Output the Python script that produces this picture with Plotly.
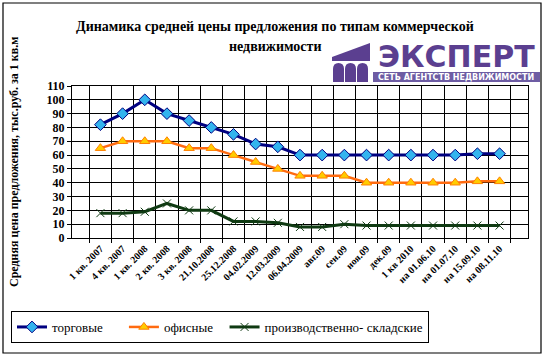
import plotly.graph_objects as go

categories = ["1 кв. 2007", "4 кв. 2007", "1 кв. 2008", "2 кв. 2008", "3 кв. 2008",
              "21.10.2008", "25.12.2008", "04.02.2009", "12.03.2009", "06.04.2009",
              "авг.09", "сен.09", "ноя.09", "дек.09", "1 кв 2010",
              "на 01.06.10", "на 01.07.10", "на 15.09.10", "на 08.11.10"]
trade = [82, 90, 100, 90, 85, 80, 75, 68, 66, 60, 60, 60, 60, 60, 60, 60, 60, 61, 61]
office = [65, 70, 70, 70, 65, 65, 60, 55, 50, 45, 45, 45, 40, 40, 40, 40, 40, 41, 41]
industrial = [18, 18, 19, 25, 20, 20, 12, 12, 11, 8, 8, 10, 9, 9, 9, 9, 9, 9, 9]
y_ticks = list(range(0, 111, 10))

W, H = 548, 359
L, R, T, B = 72, 20, 86, 121
PW, PH = W - L - R, H - T - B


def px(x):
    return (x - L) / PW


def py(y):
    return (H - B - y) / PH


SERIF = "Times New Roman, Liberation Serif, serif"
SANS = "DejaVu Sans"
PURPLE = "#5b3f90"
NB = "\u00a0"

fig = go.Figure()
fig.add_trace(go.Scatter(
    x=categories, y=trade, name="торговые" + NB * 5, mode="lines+markers",
    line=dict(color="#000080", width=3),
    marker=dict(symbol="diamond", size=9, color="#33b4ee", line=dict(color="#000080", width=1))))
fig.add_trace(go.Scatter(
    x=categories, y=office, name="офисные" + NB * 2, mode="lines+markers",
    line=dict(color="#ff6a10", width=2.5),
    marker=dict(symbol="triangle-up", size=9, color="#ffcc00", line=dict(color="#ff8000", width=1))))
fig.add_trace(go.Scatter(
    x=categories, y=industrial, name="производственно- складские", mode="lines+markers",
    line=dict(color="#0f3a12", width=3),
    marker=dict(symbol="x-thin-open", size=8, color="#0f3a12", line=dict(color="#0f3a12", width=1))))

shapes = [
    dict(type="rect", xref="paper", yref="paper", x0=px(3), x1=px(541), y0=py(3), y1=py(353),
         line=dict(color="black", width=1.2), fillcolor="rgba(0,0,0,0)", layer="below"),
    dict(type="path", xref="paper", yref="paper",
         path=f"M {px(332)},{py(57)} L {px(370)},{py(43)} L {px(370)},{py(61)} L {px(332)},{py(61)} Z",
         fillcolor=PURPLE, line=dict(width=0)),
    dict(type="rect", xref="paper", yref="paper", x0=px(373), x1=px(540), y0=py(72), y1=py(82),
         fillcolor="#6d5ca3", line=dict(width=0)),
]
for x0 in (333, 345, 357):
    x1 = x0 + 11
    xm = (x0 + x1) / 2
    shapes.append(dict(
        type="path", xref="paper", yref="paper",
        path=(f"M {px(x0)},{py(82)} L {px(x0)},{py(69)} Q {px(x0)},{py(63)} {px(xm)},{py(63)} "
              f"Q {px(x1)},{py(63)} {px(x1)},{py(69)} L {px(x1)},{py(82)} Z"),
        fillcolor=PURPLE, line=dict(width=0)))

annotations = [
    dict(text="<b>Динамика средней цены предложения по типам коммерческой</b>", x=px(275), y=py(26),
         xref="paper", yref="paper", showarrow=False, xanchor="center", yanchor="middle",
         font=dict(family=SERIF, size=14, color="black")),
    dict(text="<b>недвижимости</b>", x=px(275), y=py(46),
         xref="paper", yref="paper", showarrow=False, xanchor="center", yanchor="middle",
         font=dict(family=SERIF, size=14, color="black")),
    dict(text="<b>Средняя цена предложения, тыс.руб. за 1 кв.м</b>", x=px(14), y=py(162),
         xref="paper", yref="paper", showarrow=False, textangle=-90, xanchor="center", yanchor="middle",
         font=dict(family=SERIF, size=12, color="black")),
    dict(text="<b>ЭКСПЕРТ</b>", x=px(456), y=py(57), xref="paper", yref="paper", showarrow=False,
         xanchor="center", yanchor="middle", font=dict(family=SANS, size=30, color=PURPLE)),
    dict(text="<b>СЕТЬ АГЕНТСТВ НЕДВИЖИМОСТИ</b>", x=px(456), y=py(77.5), xref="paper", yref="paper",
         showarrow=False, xanchor="center", yanchor="middle", font=dict(family=SANS, size=8, color="white")),
]

fig.update_layout(
    width=W, height=H,
    margin=dict(l=L, r=R, t=T, b=B, autoexpand=False),
    paper_bgcolor="white", plot_bgcolor="white",
    showlegend=True,
    legend=dict(orientation="h", x=px(11), y=py(311), xanchor="left", yanchor="top",
                bordercolor="black", borderwidth=1, bgcolor="white",
                font=dict(family=SERIF, size=13, color="black"),
                tracegroupgap=0, itemwidth=30),
    shapes=shapes,
    annotations=annotations,
)
fig.update_xaxes(
    type="category", tickson="boundaries", showgrid=True, gridcolor="black", gridwidth=1,
    showline=True, linecolor="black", linewidth=1, mirror=True, automargin=False,
    ticks="outside", ticklen=4, tickcolor="black", tickangle=-45,
    tickfont=dict(family=SERIF, size=10, color="black", weight="bold"),
)
fig.update_yaxes(
    range=[0, 110], tickvals=y_ticks, showgrid=True, gridcolor="black", gridwidth=1,
    showline=True, linecolor="black", linewidth=1, mirror=True, automargin=False,
    ticks="outside", ticklen=4, tickcolor="black", zeroline=False,
    tickfont=dict(family=SERIF, size=12, color="black", weight="bold"),
)

fig.write_html("out.html", config={"displayModeBar": False},
               post_script="document.body.style.margin='0';document.body.style.overflow='hidden';")
